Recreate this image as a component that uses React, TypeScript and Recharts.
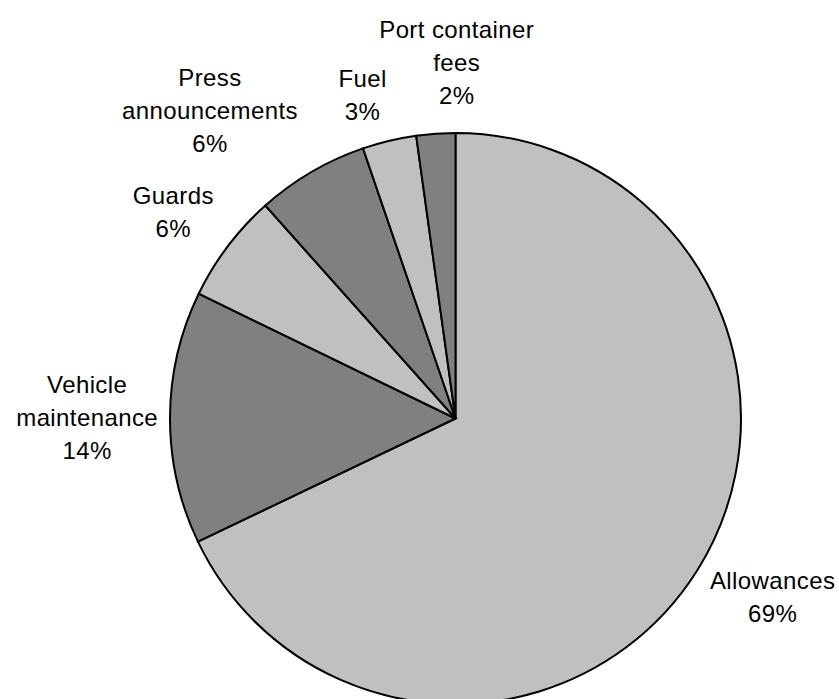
import { Cell, Pie, PieChart } from 'recharts';

// slices clockwise from 12 o'clock
const CATEGORY_LINES = [
  ['Allowances'],
  ['Vehicle', 'maintenance'],
  ['Guards'],
  ['Press', 'announcements'],
  ['Fuel'],
  ['Port container', 'fees'],
];
const SHARES = [67.9, 14.3, 6.2, 6.35, 3.05, 2.2];
const PERCENT_LABELS = ['69%', '14%', '6%', '6%', '3%', '2%'];

const LIGHT = '#c0c0c0';
const DARK = '#808080';
const FONT_SIZE = 24;
const LINE_H = 33;
const CAP = 17;
const LABEL_GAP = 12;
// Excel shuffles crowded labels a bit
const LABEL_NUDGE: [number, number][] = [
  [11, 7],
  [0, 0],
  [-14, -12],
  [-53, -15],
  [-18, -10],
  [28, -18],
];

const data = CATEGORY_LINES.map((lines, i) => ({
  name: lines.join(' '),
  value: SHARES[i],
}));

function renderLabel(props: any) {
  const { cx, cy, midAngle, outerRadius, index } = props;
  const lines = [...CATEGORY_LINES[index], PERCENT_LABELS[index]];
  const rad = (-midAngle * Math.PI) / 180;
  const dx = Math.cos(rad);
  const dy = Math.sin(rad);
  const r = outerRadius + LABEL_GAP;
  const w = Math.max(...lines.map((l) => l.length)) * 23 * 0.56;
  const h = (lines.length - 1) * LINE_H + CAP;
  const [nx, ny] = LABEL_NUDGE[index];
  const bx = cx + r * dx + (dx * w) / 2 + nx;
  const by = cy + r * dy + (dy * h) / 2 + ny;
  const firstBase = by - h / 2 + CAP;
  return (
    <text
      key={`lbl-${index}`}
      textAnchor="middle"
      fill="#000"
      fontSize={FONT_SIZE}
      letterSpacing={0.4}
      fontFamily="'Liberation Sans', Arial, sans-serif"
    >
      {lines.map((l, i) => (
        <tspan key={i} x={bx} y={firstBase + i * LINE_H}>
          {l}
        </tspan>
      ))}
    </text>
  );
}

export default function App() {
  return (
    <div style={{ position: 'absolute', left: 0, top: 0, width: 839, height: 699, background: '#fff' }}>
      <PieChart width={839} height={699} margin={{ top: 0, right: 0, bottom: 0, left: 0 }}>
        <Pie
          data={data}
          dataKey="value"
          nameKey="name"
          cx={455.5}
          cy={418.5}
          outerRadius={285.5}
          startAngle={90}
          endAngle={-270}
          stroke="#000"
          strokeWidth={2}
          label={renderLabel}
          labelLine={false}
          isAnimationActive={false}
        >
          {data.map((_, i) => (
            <Cell key={i} fill={i % 2 === 0 ? LIGHT : DARK} />
          ))}
        </Pie>
      </PieChart>
    </div>
  );
}
